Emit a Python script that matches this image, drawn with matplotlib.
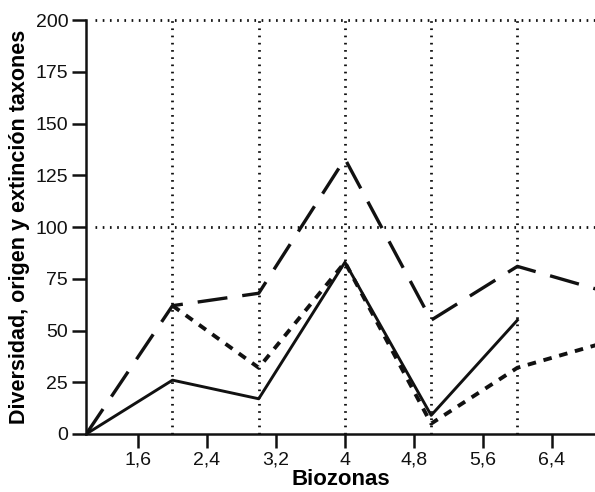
import matplotlib
matplotlib.use("Agg")
import matplotlib.pyplot as plt
import numpy as np

plt.rcParams['font.family'] = ['Liberation Sans', 'DejaVu Sans']

# biozonas (posiciones) y series
biozonas = [1, 2, 3, 4, 5, 6, 7]
diversidad = [0, 62, 68, 133, 55, 81, 69]
origen = [0, 26, 17, 83, 9, 55]
extincion = [62, 32, 83, 5, 32, 44]   # empieza en la biozona 2

xticks = [1.6, 2.4, 3.2, 4.0, 4.8, 5.6, 6.4]
xtick_labels = ["1,6", "2,4", "3,2", "4", "4,8", "5,6", "6,4"]
yticks = [0, 25, 50, 75, 100, 125, 150, 175, 200]
vlines = [2, 3, 4, 5, 6]
hlines = [100, 200]

fig = plt.figure(figsize=(5.95, 4.92), dpi=100)
ax = fig.add_axes([0.145, 0.118, 0.855, 0.841])

# reticula punteada
for x in vlines:
    ax.plot([x, x], [0, 200], color='#111111', lw=2.0, ls=(0, (0.6, 2.0)),
            clip_on=False, zorder=1)
for y in hlines:
    ax.plot([1.1, 6.9], [y, y], color='#111111', lw=2.0, ls=(0, (0.6, 2.0)),
            clip_on=False, zorder=1)

ax.plot(biozonas, diversidad, color='#111111', lw=2.4, ls=(0, (9, 4.5)), zorder=3)
ax.plot(biozonas[:len(origen)], origen, color='#111111', lw=2.1, ls='-', zorder=4)
ax.plot(biozonas[1:], extincion, color='#111111', lw=2.8, ls=(0, (2.2, 2.0)), zorder=2)

ax.set_xlim(1, 6.9)
ax.set_ylim(0, 200)
ax.set_xticks(xticks)
ax.set_xticklabels(xtick_labels)
ax.set_yticks(yticks)
ax.tick_params(axis='both', direction='out', length=10, width=1.8, labelsize=14,
               colors='#111111', pad=3)

for s in ['top', 'right']:
    ax.spines[s].set_visible(False)
for s in ['left', 'bottom']:
    ax.spines[s].set_linewidth(1.8)
    ax.spines[s].set_color('#111111')

ax.set_xlabel("Biozonas", fontsize=16, fontweight='bold', labelpad=0)
ax.set_ylabel("Diversidad, origen y extinción taxones", fontsize=15.5,
              fontweight='bold', labelpad=4)

fig.savefig("out.png", dpi=100)
